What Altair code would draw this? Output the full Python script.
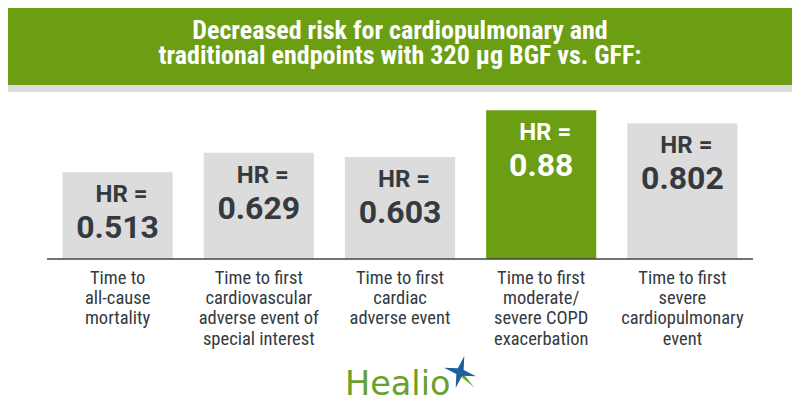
import altair as alt
import pandas as pd

# ---- data ----
categories = [
    "Time to\nall-cause\nmortality",
    "Time to first\ncardiovascular\nadverse event of\nspecial interest",
    "Time to first\ncardiac\nadverse event",
    "Time to first\nmoderate/\nsevere COPD\nexacerbation",
    "Time to first\nsevere\ncardiopulmonary\nevent",
]
hr_values = [0.513, 0.629, 0.603, 0.88, 0.802]
hr_labels = ["0.513", "0.629", "0.603", "0.88", "0.802"]
highlighted = ["no", "no", "no", "yes", "no"]
title_lines = [
    "Decreased risk for cardiopulmonary and",
    "traditional endpoints with 320 µg BGF vs. GFF:",
]
logo_text = "Healio"

df = pd.DataFrame({
    "cat": categories,
    "hr": hr_values,
    "label": hr_labels,
    "hl": highlighted,
})
one = pd.DataFrame({"k": [0]})
title1_df = pd.DataFrame({"t": [title_lines[0]]})
title2_df = pd.DataFrame({"t": [title_lines[1]]})
logo_df = pd.DataFrame({"t": [logo_text]})

COND = "Roboto Condensed, Liberation Sans Narrow, DejaVu Sans Condensed, sans-serif"
GREEN = "#6b9e12"
GRAY = "#dcdcdc"
DARK = "#343a3f"

xs = alt.Scale(domain=categories, range=[39, 745], paddingInner=0.22, paddingOuter=0.11)
ys = alt.Scale(domain=[0, 1], range=[251, 82])
X = alt.X("cat:N", scale=xs, axis=None, sort=categories)
Y = alt.Y("hr:Q", scale=ys, axis=None)

is_hl = alt.datum.hl == "yes"

header = alt.Chart(one).mark_rect(color=GREEN).encode(
    x=alt.value(0), x2=alt.value(784), y=alt.value(0), y2=alt.value(77)
)
strip = alt.Chart(one).mark_rect(color=GRAY).encode(
    x=alt.value(0), x2=alt.value(784), y=alt.value(77), y2=alt.value(84)
)
title1 = alt.Chart(title1_df).mark_text(
    font=COND, fontSize=26, fontWeight="bold", color="white",
    align="center", baseline="alphabetic",
).encode(text="t:N", x=alt.value(392), y=alt.value(31))
title2 = alt.Chart(title2_df).mark_text(
    font=COND, fontSize=26, fontWeight="bold", color="white",
    align="center", baseline="alphabetic",
).encode(text="t:N", x=alt.value(392), y=alt.value(56))

bars = alt.Chart(df).mark_bar().encode(
    x=X, y=Y,
    color=alt.condition(is_hl, alt.value(GREEN), alt.value(GRAY)),
)
hr_text = alt.Chart(df).mark_text(
    text="HR =", font="Roboto", fontSize=24, fontWeight="bold",
    baseline="alphabetic", dy=30, dx=4,
).encode(
    x=X, y=Y,
    color=alt.condition(is_hl, alt.value("white"), alt.value(DARK)),
)
val_text = alt.Chart(df).mark_text(
    font="Roboto", fontSize=32, fontWeight="bold",
    baseline="alphabetic", dy=66,
).encode(
    x=X, y=Y, text="label:N",
    color=alt.condition(is_hl, alt.value("white"), alt.value(DARK)),
)
baseline = alt.Chart(one).mark_rule(color="#444444", strokeWidth=1.5).encode(
    x=alt.value(39), x2=alt.value(745), y=alt.value(251)
)
cat_text = alt.Chart(df).mark_text(
    font=COND, fontSize=18.5, lineBreak="\n", lineHeight=20.2,
    baseline="alphabetic", align="center", color=DARK,
).encode(x=X, y=alt.value(276), text="cat:N")

logo = alt.Chart(logo_df).mark_text(
    font="DejaVu Sans", fontSize=33.5, color="#69a12f", align="left", baseline="alphabetic",
).encode(text="t:N", x=alt.value(337), y=alt.value(387))

star_path = "M0,-1 L0.18,-0.18 L1,0 L0.18,0.18 L0,1 L-0.18,0.18 L-1,0 L-0.18,-0.18 Z"
tri_path = "M-0.2,-0.5 L1,1 L-0.5,-0.2 Z"
star_green = alt.Chart(one).mark_point(
    shape=tri_path, filled=True, color="#6aa22c", opacity=1, size=500, strokeWidth=0
).encode(x=alt.value(455), y=alt.value(368))
star_blue = alt.Chart(one).mark_point(
    shape=star_path, filled=True, color="#1d5f9f", opacity=1, size=1100, angle=15, strokeWidth=0
).encode(x=alt.value(452), y=alt.value(364))

chart = alt.layer(
    header, strip, title1, title2, bars, hr_text, val_text, baseline, cat_text,
    star_green, star_blue, logo,
).properties(
    width=784, height=404, padding=0,
    autosize=alt.AutoSizeParams(type="none"),
).configure_view(strokeWidth=0)

chart.save("out.html", embed_options={"renderer": "svg", "actions": False})
